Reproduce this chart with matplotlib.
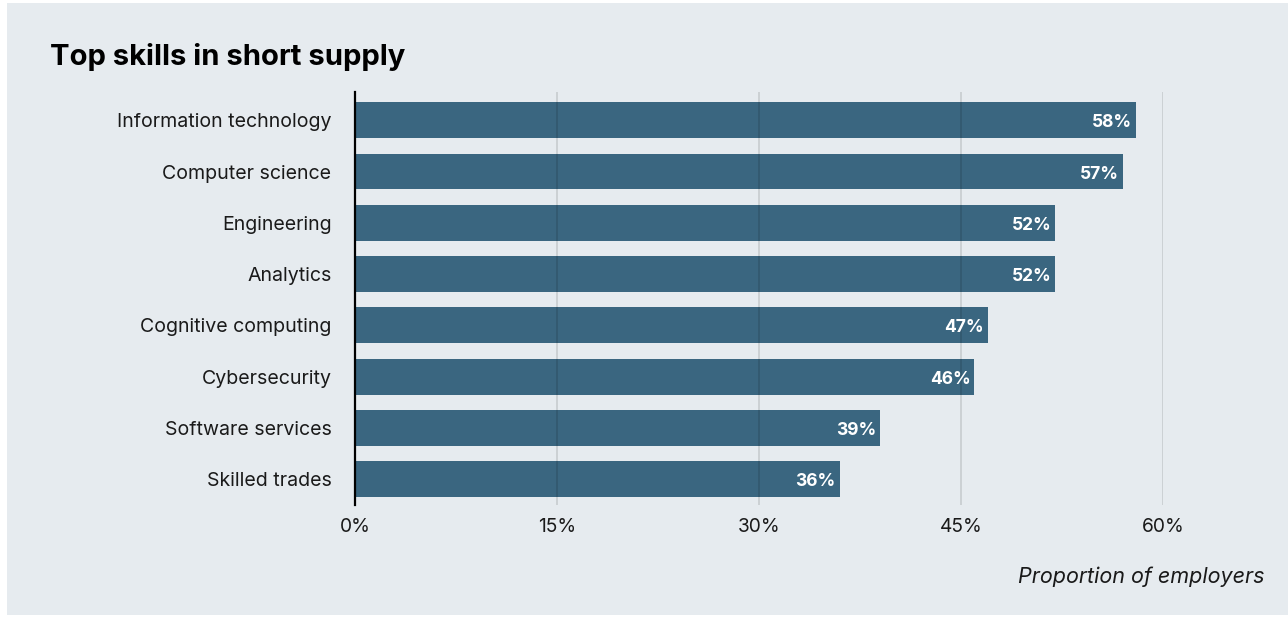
import matplotlib.pyplot as plt
from matplotlib.patches import Rectangle

# shortage of skills, share of employers reporting it
skills = ["Information technology", "Computer science", "Engineering", "Analytics",
          "Cognitive computing", "Cybersecurity", "Software services", "Skilled trades"]
shares = [58, 57, 52, 52, 47, 46, 39, 36]
xticks = [0, 15, 30, 45, 60]

bar_color = "#3a6680"
panel_color = "#e6ebef"

plt.rcParams['font.family'] = ['Inter', 'DejaVu Sans']

fig = plt.figure(figsize=(12.88, 6.17), dpi=100, facecolor="white")
fig.patches.append(Rectangle((7 / 1288, 2 / 617), 1 - 7 / 1288, 612 / 617,
                             transform=fig.transFigure, facecolor=panel_color,
                             edgecolor="none", zorder=-1))

ax = fig.add_axes([355 / 1288, 1 - 505 / 617, (1163 - 355) / 1288, 413 / 617])
ax.set_facecolor("none")

pos = list(range(len(skills)))
ax.barh(pos, shares, height=0.70, color=bar_color, zorder=1)
for y, v in zip(pos, shares):
    ax.text(v - 0.3, y + 0.05, f"{v}%", ha="right", va="center", color="white",
            fontsize=12.5, fontweight="bold", zorder=3)

ax.set_xlim(0, 60)
ax.set_ylim(7.5, -0.55)
ax.set_yticks(pos)
ax.set_yticklabels(skills, fontsize=14.1, color="#1a1a1a")
ax.set_xticks(xticks)
ax.set_xticklabels([f"{t}%" for t in xticks], fontsize=13.8, color="#1a1a1a")
ax.tick_params(axis="y", length=0, pad=17)
ax.tick_params(axis="x", length=0, pad=9)

for t in xticks[1:]:
    ax.axvline(t, color="black", alpha=0.13, linewidth=1.2, zorder=2)

for s in ["top", "right", "bottom"]:
    ax.spines[s].set_visible(False)
ax.spines["left"].set_linewidth(1.6)
ax.spines["left"].set_color("black")
ax.spines["left"].set_zorder(4)

fig.text(50 / 1288, 1 - 57 / 617, "Top skills in short supply", fontsize=21,
         fontweight="bold", ha="left", va="center", color="black")
fig.text(1265 / 1288, 1 - 577 / 617, "Proportion of employers", fontsize=15.5,
         style="italic", ha="right", va="center", color="#1a1a1a")

fig.savefig("out.png", dpi=100, facecolor="white")
